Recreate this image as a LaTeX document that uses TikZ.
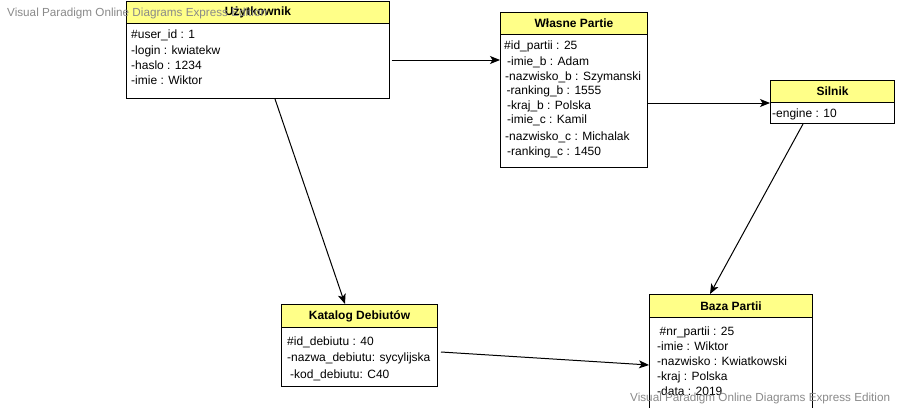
\documentclass[tikz,border=0pt]{standalone}
\usepackage{fontspec}
\setmainfont{Liberation Sans}
\usetikzlibrary{arrows.meta}
\definecolor{hdrfill}{HTML}{FFFF88}
\definecolor{wmgray}{HTML}{8A8A8A}
\begin{document}
\begin{tikzpicture}[x=1pt,y=-1pt,
  hdr/.style={draw=black,line width=1pt,fill=hdrfill,anchor=north west,inner sep=0pt,
    font=\fontsize{12}{14}\selectfont\bfseries,minimum height=22pt},
  bodybox/.style={draw=black,line width=1pt,fill=white,anchor=north west,inner sep=0pt},
  attr/.style={anchor=base west,inner sep=0pt,font=\fontsize{12}{14}\selectfont},
  conn/.style={draw=black,line width=1pt,-{Stealth[length=10pt,width=8pt,inset=2.5pt]}},
  wm/.style={anchor=base west,inner sep=0pt,text=wmgray,font=\fontsize{11.7}{14}\selectfont}]
\useasboundingbox[fill=white] (0,0) rectangle (897,407);

% Uzytkownik
\node[bodybox,minimum width=263pt,minimum height=75pt] (ub) at (126,23) {};
\node[hdr,minimum width=263pt] (uh) at (126,1) {Użytkownik};
\node[attr] (u1) at (131,38.8) {\#user\_id : 1};
\node[attr] (u2) at (131,54.3) {-login : kwiatekw};
\node[attr] (u3) at (131,69.5) {-haslo : 1234};
\node[attr] (u4) at (131,84.5) {-imie : Wiktor};

% Wlasne Partie
\node[bodybox,minimum width=147pt,minimum height=133pt] (wb) at (500,34) {};
\node[hdr,minimum width=147pt] (wh) at (500,12) {Własne Partie};
\node[attr] (w1) at (504,49.5) {\#id\_partii : 25};
\node[attr] (w2) at (507,65.5) {-imie\_b : Adam};
\node[attr] (w3) at (505,80.5) {-nazwisko\_b : Szymanski};
\node[attr] (w4) at (506.5,94.5) {-ranking\_b : 1555};
\node[attr] (w5) at (507,109.5) {-kraj\_b : Polska};
\node[attr] (w6) at (507,123.5) {-imie\_c : Kamil};
\node[attr] (w7) at (505,140.5) {-nazwisko\_c : Michalak};
\node[attr] (w8) at (507,155) {-ranking\_c : 1450};

% Silnik
\node[bodybox,minimum width=124pt,minimum height=21pt] (sb) at (770,102) {};
\node[hdr,minimum width=124pt] (sh) at (770,80) {Silnik};
\node[attr] (s1) at (772,117) {-engine : 10};

% Katalog Debiutow
\node[bodybox,minimum width=156pt,minimum height=59pt] (kb) at (281,327) {};
\node[hdr,minimum width=156pt,minimum height=23pt] (kh) at (281,304) {Katalog Debiutów};
\node[attr] (k1) at (287,345.5) {\#id\_debiutu : 40};
\node[attr] (k2) at (287,361) {-nazwa\_debiutu: sycylijska};
\node[attr] (k3) at (290,378) {-kod\_debiutu: C40};

% Baza Partii
\node[bodybox,minimum width=163pt,minimum height=95pt] (bb) at (649,317) {};
\node[hdr,minimum width=163pt,minimum height=23pt] (bh) at (649,294) {Baza Partii};
\node[attr] (b1) at (659.5,335.5) {\#nr\_partii : 25};
\node[attr] (b2) at (657,350.5) {-imie : Wiktor};
\node[attr] (b3) at (657,365) {-nazwisko : Kwiatkowski};
\node[attr] (b4) at (657,380) {-kraj : Polska};
\node[attr] (b5) at (657,395.5) {-data : 2019};

% connectors
\draw[conn] ([xshift=1.5pt]ub.east |- 0,60) -- (wb.west |- 0,60);
\draw[conn] (wb.east |- 0,103) -- (sh.south west |- 0,103);
\draw[conn] ([xshift=33pt]sb.south west) -- ([xshift=61pt]bh.north west);
\draw[conn] ([xshift=149pt]ub.south west) -- ([xshift=64pt]kh.north west);
\draw[conn] ([xshift=3pt,yshift=-25pt]kb.north east) -- ([yshift=-48pt]bb.north west);

% watermarks
\node[wm] (wm1) at (7,16.5) {Visual Paradigm Online Diagrams Express Edition};
\node[wm] (wm2) at (630,401.5) {Visual Paradigm Online Diagrams Express Edition};
\end{tikzpicture}
\end{document}
